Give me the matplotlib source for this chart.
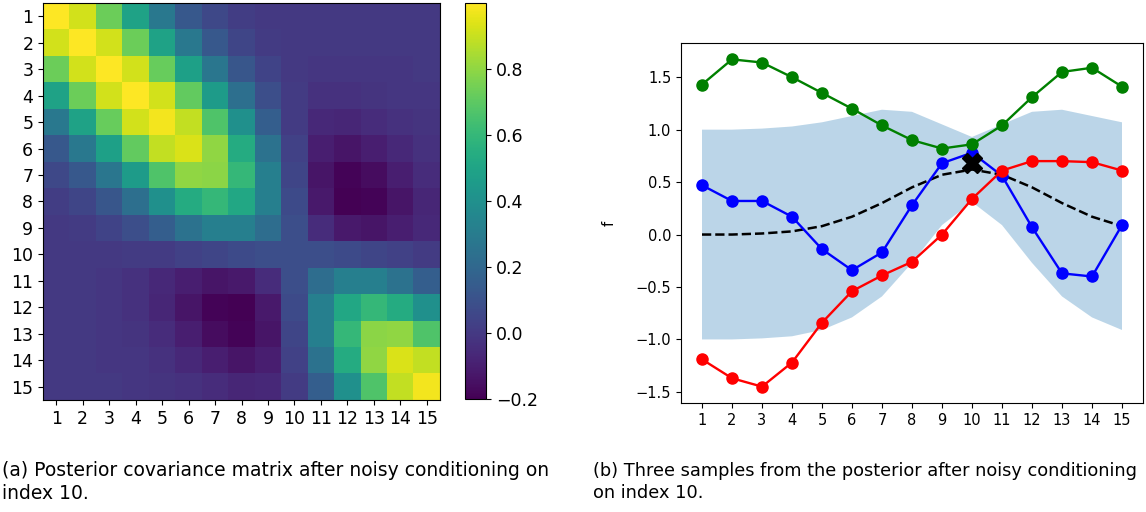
import matplotlib.pyplot as plt
import numpy as np

# posterior covariance, rows/cols = index 1..15
cov = [
    [1.00, 0.92, 0.73, 0.49, 0.28, 0.13, 0.06, 0.02, 0.00, 0.00, 0.00, 0.00, 0.00, 0.00, 0.00],
    [0.92, 1.00, 0.92, 0.73, 0.49, 0.28, 0.13, 0.05, 0.01, 0.00, 0.00, 0.00, 0.00, 0.00, 0.00],
    [0.73, 0.92, 1.00, 0.92, 0.72, 0.48, 0.27, 0.12, 0.04, 0.00, -0.01, -0.01, -0.01, -0.01, 0.00],
    [0.49, 0.73, 0.92, 1.00, 0.92, 0.71, 0.46, 0.24, 0.09, 0.01, -0.03, -0.03, -0.02, -0.01, -0.01],
    [0.28, 0.49, 0.72, 0.92, 0.98, 0.89, 0.67, 0.40, 0.16, 0.01, -0.06, -0.07, -0.05, -0.03, -0.02],
    [0.13, 0.28, 0.48, 0.71, 0.89, 0.93, 0.80, 0.54, 0.25, 0.03, -0.10, -0.13, -0.10, -0.06, -0.03],
    [0.06, 0.13, 0.27, 0.46, 0.67, 0.80, 0.79, 0.60, 0.32, 0.05, -0.13, -0.19, -0.16, -0.10, -0.05],
    [0.02, 0.05, 0.12, 0.24, 0.40, 0.54, 0.60, 0.52, 0.32, 0.07, -0.12, -0.20, -0.19, -0.13, -0.07],
    [0.00, 0.01, 0.04, 0.09, 0.16, 0.25, 0.32, 0.32, 0.23, 0.09, -0.05, -0.12, -0.13, -0.10, -0.06],
    [0.00, 0.00, 0.00, 0.01, 0.01, 0.03, 0.05, 0.07, 0.09, 0.09, 0.09, 0.07, 0.05, 0.03, 0.01],
    [0.00, 0.00, -0.01, -0.03, -0.06, -0.10, -0.13, -0.12, -0.05, 0.09, 0.23, 0.32, 0.32, 0.25, 0.16],
    [0.00, 0.00, -0.01, -0.03, -0.07, -0.13, -0.19, -0.20, -0.12, 0.07, 0.32, 0.52, 0.60, 0.54, 0.40],
    [0.00, 0.00, -0.01, -0.02, -0.05, -0.10, -0.16, -0.19, -0.13, 0.05, 0.32, 0.60, 0.79, 0.80, 0.67],
    [0.00, 0.00, -0.01, -0.01, -0.03, -0.06, -0.10, -0.13, -0.10, 0.03, 0.25, 0.54, 0.80, 0.93, 0.89],
    [0.00, 0.00, 0.00, -0.01, -0.02, -0.03, -0.05, -0.07, -0.06, 0.01, 0.16, 0.40, 0.67, 0.89, 0.98],
]

idx = list(range(1, 16))

# posterior mean and std per index
mean = [0.00, 0.00, 0.01, 0.03, 0.08, 0.17, 0.30, 0.45, 0.57, 0.62, 0.57, 0.45, 0.30, 0.17, 0.08]
std = [1.00, 1.00, 1.00, 1.00, 0.99, 0.96, 0.89, 0.72, 0.48, 0.31, 0.48, 0.72, 0.89, 0.96, 0.99]

# three posterior samples
s_green = [1.43, 1.67, 1.64, 1.50, 1.35, 1.20, 1.04, 0.90, 0.82, 0.86, 1.04, 1.31, 1.55, 1.59, 1.41]
s_blue = [0.47, 0.32, 0.32, 0.17, -0.14, -0.34, -0.17, 0.28, 0.68, 0.78, 0.56, 0.07, -0.37, -0.40, 0.09]
s_red = [-1.19, -1.37, -1.45, -1.22, -0.84, -0.54, -0.39, -0.26, 0.00, 0.34, 0.61, 0.70, 0.70, 0.69, 0.61]

obs_x = 10
obs_y = 0.686

cap_a = "(a) Posterior covariance matrix after noisy conditioning on\nindex 10."
cap_b = "(b) Three samples from the posterior after noisy conditioning\non index 10."

#======================================================================================
W, H = 1146, 512
fig = plt.figure(figsize=(W/100, H/100), dpi=100)

def box(x0, y0, x1, y1):
    return [x0/W, 1 - y1/H, (x1-x0)/W, (y1-y0)/H]

# heatmap
ax1 = fig.add_axes(box(43, 3, 440, 400))
im = ax1.imshow(np.array(cov), cmap="viridis", aspect="auto",
                extent=[0.5, 15.5, 15.5, 0.5])
ax1.set_xticks(idx)
ax1.set_yticks(idx)
ax1.tick_params(labelsize=12.5)

cax = fig.add_axes(box(465, 3, 486, 399))
cb = fig.colorbar(im, cax=cax)
cb.set_ticks([-0.2, 0.0, 0.2, 0.4, 0.6, 0.8])
cb.ax.tick_params(labelsize=12.5)

# samples
ax2 = fig.add_axes(box(681, 43, 1143, 403))
lo = [m - s for m, s in zip(mean, std)]
hi = [m + s for m, s in zip(mean, std)]
ax2.fill_between(idx, lo, hi, alpha=0.3, linewidth=0)
ax2.plot(idx, mean, "k--", linewidth=1.8)
ax2.plot(idx, s_blue, "b-o", linewidth=1.7, markersize=8)
ax2.plot(idx, s_red, "r-o", linewidth=1.7, markersize=8)
ax2.plot(idx, s_green, "g-o", linewidth=1.7, markersize=8)
ax2.plot(obs_x, obs_y, "kX", markersize=14)
ax2.set_xticks(idx)
ax2.set_ylabel("f", fontsize=10.5, labelpad=14)
ax2.tick_params(labelsize=10.5)

fig.text(2/W, 1 - 482/H, cap_a, fontsize=13.5, family="DejaVu Sans",
         va="center", linespacing=1.3)
fig.text(593/W, 1 - 482/H, cap_b, fontsize=12.8, family="DejaVu Sans",
         va="center", linespacing=1.35)

fig.savefig("out.png", dpi=100)
